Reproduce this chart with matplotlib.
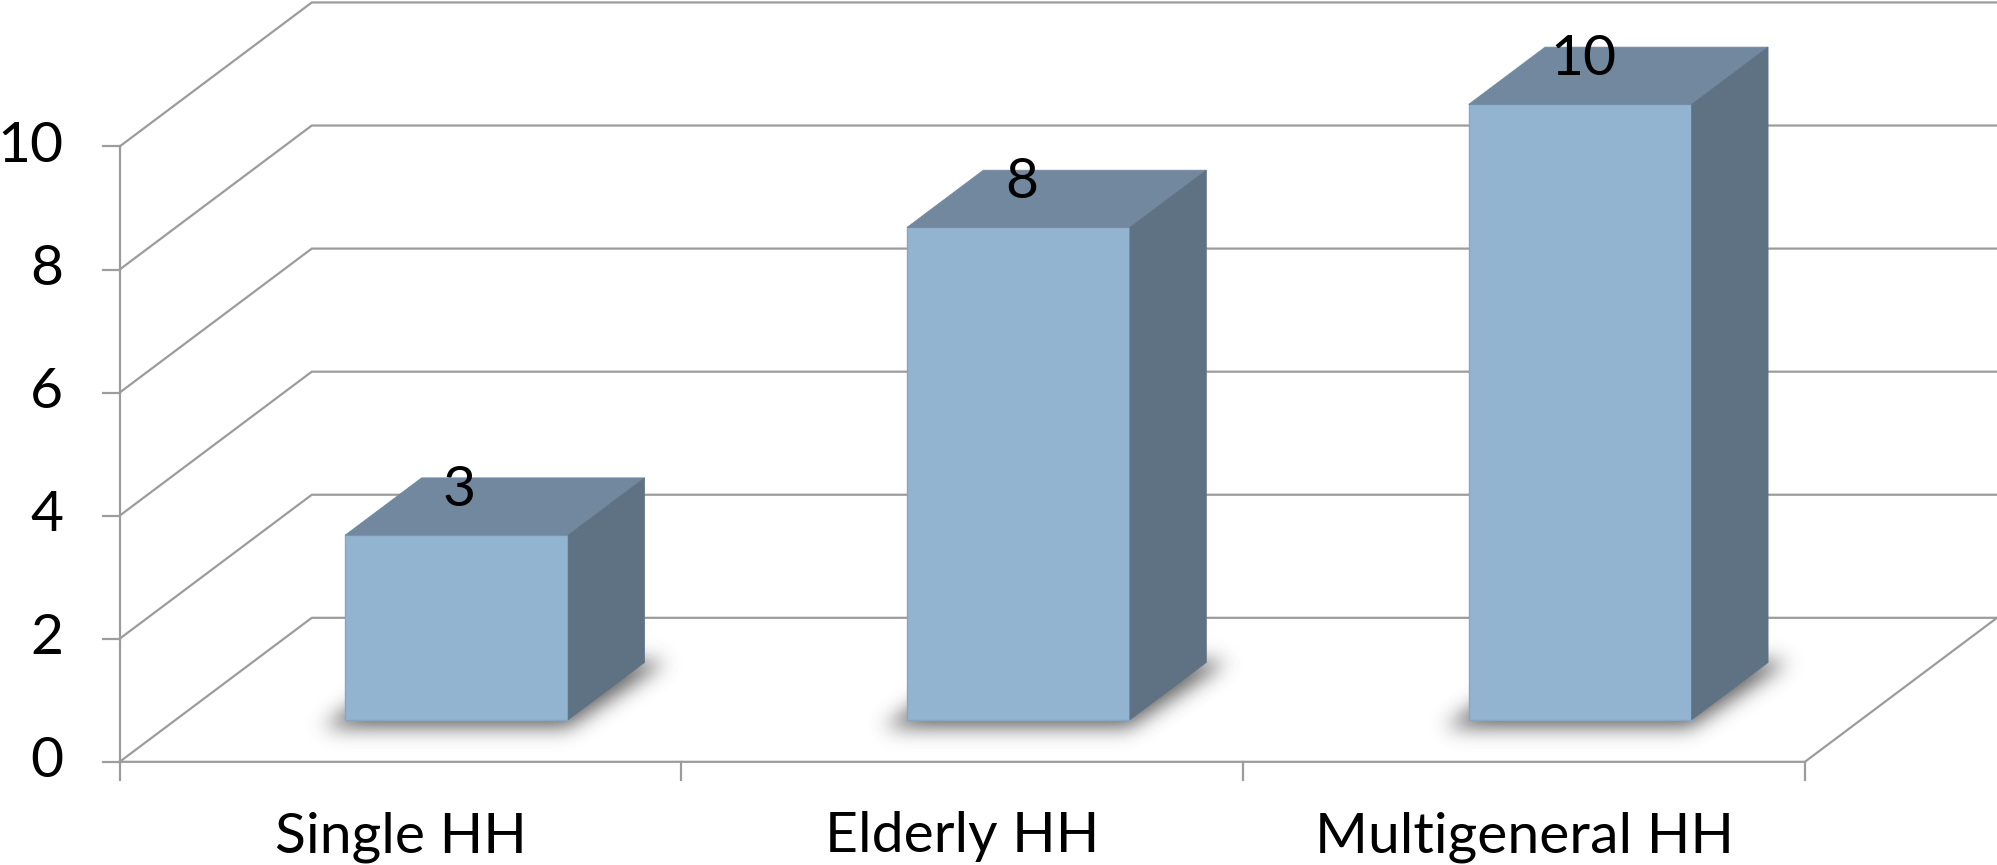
import numpy as np
import matplotlib.pyplot as plt
from matplotlib.patches import Polygon
from matplotlib.path import Path

categories = ['Single HH', 'Elderly HH', 'Multigeneral HH']
counts = [3, 8, 10]
y_ticks = [0, 2, 4, 6, 8, 10]

# oblique projection: depth 0 is the front edge, 1 the back wall
DX, DY = 0.342, 2.34
BAR_W = 0.397
D0, D1 = 0.292, 0.69

FRONT = '#93B4D1'
TOP = '#71889E'
SIDE = '#5E7284'
GRID = '#9C9C9C'
FS = 41

plt.rcParams['font.family'] = ['Lato', 'DejaVu Sans']


def proj(x, v, d):
    return (x + d * DX, v + d * DY)


fig = plt.figure(figsize=(19.97, 8.65), dpi=100)
ax = fig.add_axes([0, 0, 1, 1])
XLIM = (-0.213, 3.342)
YLIM = (-1.677, 12.38)
ax.set_xlim(*XLIM)
ax.set_ylim(*YLIM)
ax.axis('off')

# back wall gridlines, bent along the left wall
for v in y_ticks:
    pts = [proj(0, v, 0), proj(0, v, 1), proj(3, v, 1)]
    ax.plot(*zip(*pts), color=GRID, lw=1.6, zorder=1)
    ax.plot([-0.03, 0], [v, v], color=GRID, lw=1.6, zorder=1)
    ax.text(-0.1, v, str(v), ha='right', va='center', fontsize=FS)

# floor and front axis
floor = [proj(0, 0, 0), proj(3, 0, 0), proj(3, 0, 1)]
ax.plot(*zip(*floor), color=GRID, lw=1.6, zorder=1)
ax.plot([0, 0], [0, y_ticks[-1]], color=GRID, lw=1.6, zorder=1)
for i in range(len(categories) + 1):
    ax.plot([i, i], [0, -0.29], color=GRID, lw=1.6, zorder=1)
for i, cat in enumerate(categories):
    ax.text(i + 0.5, -1.22, cat, ha='center', va='center', fontsize=FS)

# soft shadow under each bar: blurred footprint raster
nx, ny = 1000, 433
gx = np.linspace(XLIM[0], XLIM[1], nx)
gy = np.linspace(YLIM[0], YLIM[1], ny)
GX, GY = np.meshgrid(gx, gy)
grid_pts = np.column_stack([GX.ravel(), GY.ravel()])
mask = np.zeros(GX.shape)
for i in range(len(counts)):
    x0 = i + 0.5 - BAR_W / 2
    x1 = x0 + BAR_W
    shadow = [proj(x0 - 0.04, -0.12, D0), proj(x1, -0.12, D0),
              proj(x1 + 0.035, 0, D1), proj(x0, 0, D1)]
    mask += Path(shadow).contains_points(grid_pts).reshape(GX.shape)
k = np.exp(-0.5 * (np.arange(-15, 16) / 5.0) ** 2)
k /= k.sum()
blur = np.apply_along_axis(lambda r: np.convolve(r, k, mode='same'), 0, mask)
blur = np.apply_along_axis(lambda r: np.convolve(r, k, mode='same'), 1, blur)
rgba = np.zeros(GX.shape + (4,))
rgba[..., :3] = 0.22
rgba[..., 3] = np.clip(blur, 0, 1) * 0.8
ax.imshow(rgba, extent=(*XLIM, *YLIM), origin='lower', aspect='auto',
          interpolation='bilinear', zorder=2)

# bars: front, top and right faces
for i, val in enumerate(counts):
    x0 = i + 0.5 - BAR_W / 2
    x1 = x0 + BAR_W
    front = [proj(x0, 0, D0), proj(x1, 0, D0), proj(x1, val, D0), proj(x0, val, D0)]
    top = [proj(x0, val, D0), proj(x1, val, D0), proj(x1, val, D1), proj(x0, val, D1)]
    side = [proj(x1, 0, D0), proj(x1, 0, D1), proj(x1, val, D1), proj(x1, val, D0)]
    ax.add_patch(Polygon(front, closed=True, facecolor=FRONT, edgecolor='#86A6C4', lw=1, zorder=3))
    ax.add_patch(Polygon(top, closed=True, facecolor=TOP, edgecolor=TOP, lw=0.5, zorder=3))
    ax.add_patch(Polygon(side, closed=True, facecolor=SIDE, edgecolor=SIDE, lw=0.5, zorder=3))
    ax.text(i + 0.605, val + 1.41, str(val), ha='center', va='center', fontsize=FS, zorder=4)

fig.savefig('out.png', dpi=100)
